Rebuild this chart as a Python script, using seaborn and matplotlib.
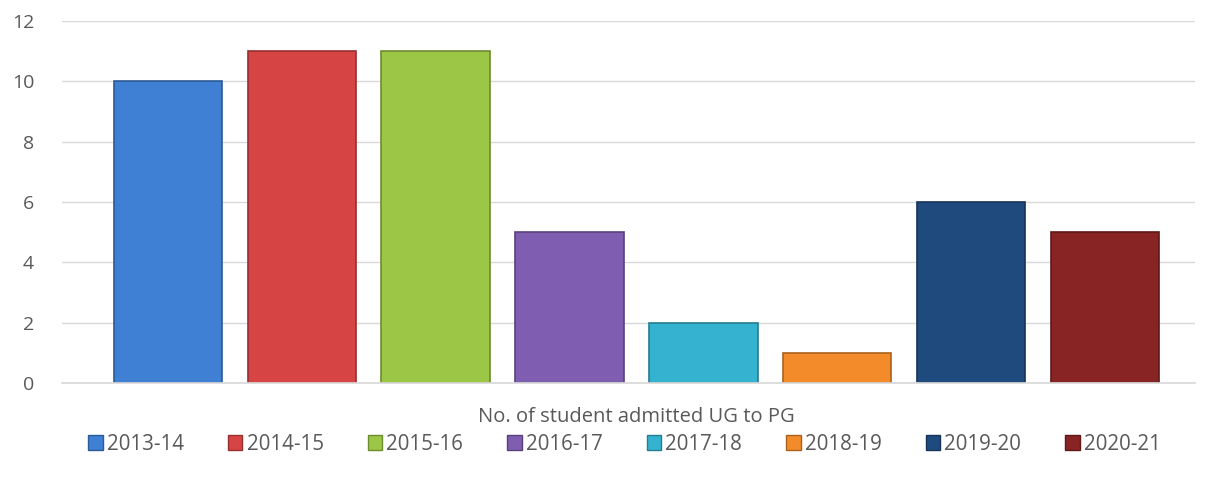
import numpy as np
import pandas as pd
import matplotlib
matplotlib.use('Agg')
import matplotlib.pyplot as plt
import seaborn as sns
from matplotlib.patches import Patch

# 数据
years = ['2013-14', '2014-15', '2015-16', '2016-17', '2017-18', '2018-19', '2019-20', '2020-21']
admitted = [10, 11, 11, 5, 2, 1, 6, 5]
category = 'No. of student admitted UG to PG'
colors = ['#3f80d4', '#d64543', '#9cc645', '#7f5db0', '#35b2d0', '#f38b2a', '#1f4a7e', '#882424']

df = pd.DataFrame({'cat': [category] * len(years), 'year': years, 'value': admitted})

sns.set_theme(style='white')
plt.rcParams['font.family'] = ['Open Sans', 'DejaVu Sans']

fig = plt.figure(figsize=(12.15, 4.83), dpi=100)
ax = fig.add_axes([0.051, 0.207, 0.9325, 0.75])

sns.barplot(data=df, x='cat', y='value', hue='year', palette=colors,
            width=0.945, gap=0.19, ax=ax, legend=False, saturation=1)

# 边框颜色稍深，模拟立体效果
for bar, c in zip(ax.patches, colors):
    rgb = np.array(matplotlib.colors.to_rgb(c))
    bar.set_edgecolor(tuple(rgb * 0.7))
    bar.set_linewidth(1.2)

ax.set_ylim(0, 12)
ax.set_xlim(-0.507, 0.493)
ax.set_yticks(range(0, 13, 2))
ax.yaxis.grid(True, color='#d9d9d9', linewidth=1)
ax.set_axisbelow(True)
for s in ['top', 'right', 'left']:
    ax.spines[s].set_visible(False)
ax.spines['bottom'].set_color('#d9d9d9')
ax.tick_params(axis='y', length=0, labelsize=14, labelcolor='#595959', pad=20)
ax.tick_params(axis='x', length=0, labelsize=14.5, labelcolor='#595959', pad=17)
ax.set_xlabel('')
ax.set_ylabel('')

handles = [Patch(facecolor=c, edgecolor=tuple(np.array(matplotlib.colors.to_rgb(c)) * 0.7))
           for c in colors]
fig.legend(handles, years, loc='center', bbox_to_anchor=(0.514, 0.08), ncol=8,
           frameon=False, fontsize=14.8, labelcolor='#595959',
           handlelength=0.7, handleheight=0.7, handletextpad=0.2, columnspacing=2.15)

plt.savefig('out.png', dpi=100)
